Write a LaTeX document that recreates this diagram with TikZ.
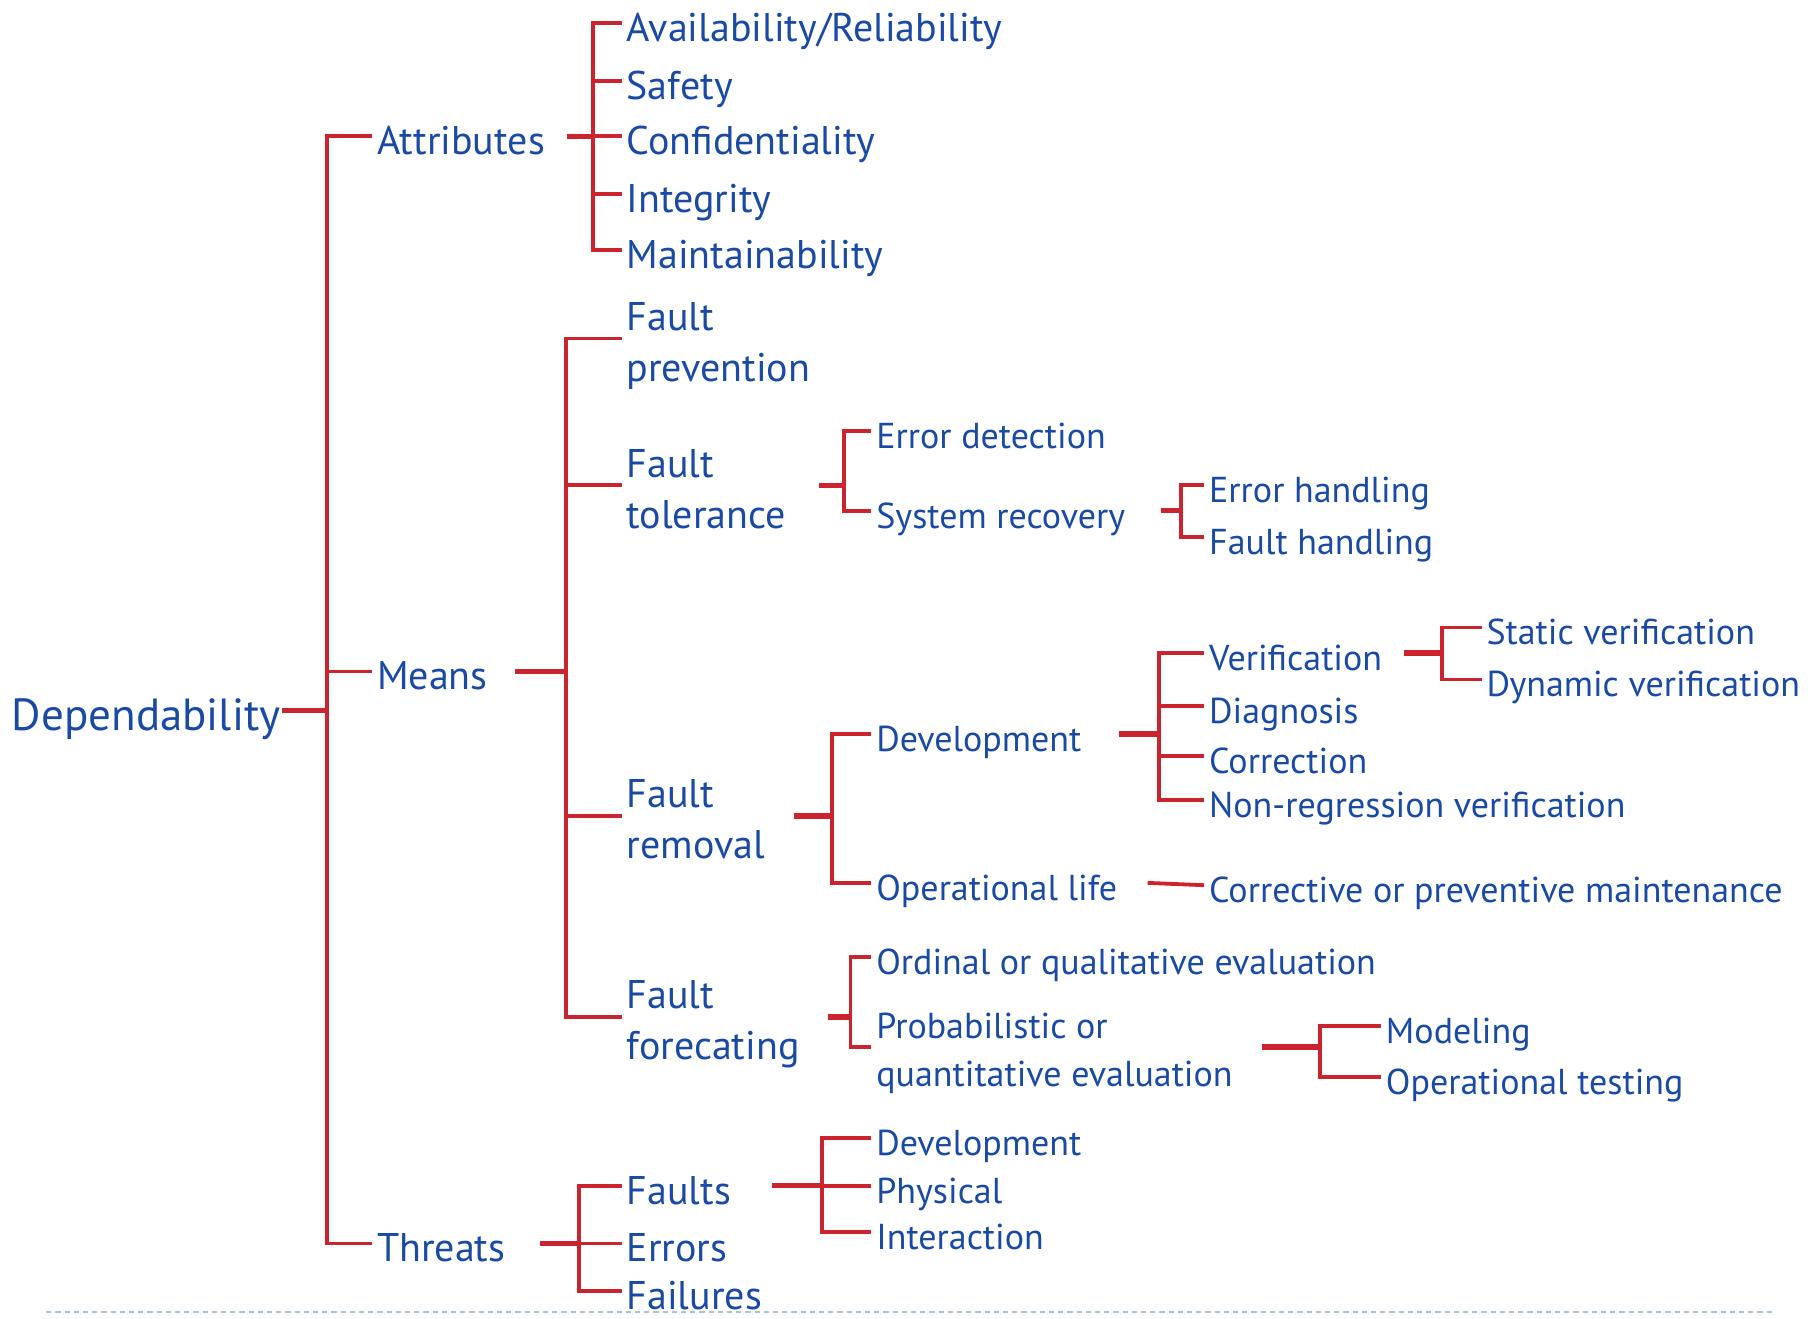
\documentclass[tikz,border=0pt]{standalone}
\usepackage{fontspec}
\setmainfont{PT Sans}
\usetikzlibrary{calc}
\definecolor{inkblue}{RGB}{26,74,165}
\definecolor{treered}{RGB}{204,36,46}
\definecolor{rulegrey}{RGB}{172,195,214}
% two stacked lines whose baseline is the first one
\newcommand{\tworows}[2]{\vtop{\hbox{#1}\hbox{#2}}}
\begin{document}
\begin{tikzpicture}[
  x=0.5778pt, y=-0.5778pt,
  every node/.style={inner ysep=0pt, inner xsep=2.31pt, text=inkblue, anchor=west},
  lvlbig/.style={font=\fontsize{22.5}{27}\selectfont, text height=19.65pt, text depth=0pt},
  lvlmid/.style={font=\fontsize{20}{25.4}\selectfont, text height=18.49pt, text depth=0pt},
  lvlmidtwo/.style={font=\fontsize{20}{25.4}\selectfont, text height=0pt, text depth=8.09pt},
  lvlsmall/.style={font=\fontsize{18}{23.7}\selectfont, text height=17.33pt, text depth=0pt},
  lvlsmalltwo/.style={font=\fontsize{18}{23.7}\selectfont, text height=0pt, text depth=8.09pt},
  branch/.style={draw=treered, line width=1.9pt},
  stub/.style={draw=treered, line width=2.7pt},
]
\useasboundingbox (0,0) rectangle (1568,1141);

% bottom rule
\draw[rulegrey, line width=0.9pt, dash pattern=on 2.6pt off 2pt] (40,1135) -- (1535,1135);

% root
\node[lvlbig] (dep) at (6,615) {Dependability};

% first level
\node[lvlmid] (attr) at (322,118) {Attributes};
\node[lvlmid] (means) at (322,581) {Means};
\node[lvlmid] (threats) at (322,1076) {Threats};

% attributes
\node[lvlmid] (avail) at (538,20) {Availability/Reliability};
\node[lvlmid] (safety) at (538,70) {Safety};
\node[lvlmid] (conf) at (538,118) {Confidentiality};
\node[lvlmid] (integ) at (538,168) {Integrity};
\node[lvlmid] (maint) at (538,216) {Maintainability};

% means
\node[lvlmidtwo] (fprev) at (538,293) {\tworows{Fault}{prevention}};
\node[lvlmidtwo] (ftol) at (538,420) {\tworows{Fault}{tolerance}};
\node[lvlmidtwo] (frem) at (538,706) {\tworows{Fault}{removal}};
\node[lvlmidtwo] (ffore) at (538,880) {\tworows{Fault}{forecating}};

% fault tolerance
\node[lvlsmall] (errdet) at (754,373) {Error detection};
\node[lvlsmall] (sysrec) at (754,442) {System recovery};
\node[lvlsmall] (errh) at (1042,420) {Error handling};
\node[lvlsmall] (faulth) at (1042,465) {Fault handling};

% fault removal
\node[lvlsmall] (devel) at (754,635) {Development};
\node[lvlsmall] (oplife) at (754,764) {Operational life};
\node[lvlsmall] (verif) at (1042,565) {Verification};
\node[lvlsmall] (diag) at (1042,611) {Diagnosis};
\node[lvlsmall] (corr) at (1042,654) {Correction};
\node[lvlsmall] (nonreg) at (1042,692) {Non-regression verification};
\node[lvlsmall] (statv) at (1282,543) {Static verification};
\node[lvlsmall] (dynv) at (1282,588) {Dynamic verification};
\node[lvlsmall] (corrmaint) at (1042,766) {Corrective or preventive maintenance};

% fault forecasting
\node[lvlsmall] (ordinal) at (754,828) {Ordinal or qualitative evaluation};
\node[lvlsmalltwo] (probab) at (754,906) {\tworows{Probabilistic or}{quantitative evaluation}};
\node[lvlsmall] (model) at (1195,888) {Modeling};
\node[lvlsmall] (optest) at (1195,932) {Operational testing};

% threats
\node[lvlmid] (faults) at (538,1026) {Faults};
\node[lvlmid] (errors) at (538,1076) {Errors};
\node[lvlmid] (failures) at (538,1117) {Failures};
\node[lvlsmall] (tdev) at (754,985) {Development};
\node[lvlsmall] (tphys) at (754,1026) {Physical};
\node[lvlsmall] (tinter) at (754,1066) {Interaction};

% junctions on the vertical bars
\coordinate (depB) at (283,615);
\coordinate (attrB) at (513,118);
\coordinate (meansB) at (490,581);
\coordinate (threatsB) at (501,1076);
\coordinate (ftolB) at (730,420);
\coordinate (sysrecB) at (1022,442);
\coordinate (fremB) at (720,706);
\coordinate (develB) at (1003,635);
\coordinate (verifB) at (1248,565);
\coordinate (fforeB) at (736,880);
\coordinate (probabB) at (1142,906);
\coordinate (faultsB) at (711,1026);

% root
\draw[stub] ($(dep.east)+(-3,0)$) -- (depB);
\foreach \c in {attr,means,threats} \draw[branch] (\c.west) -| (depB);

% attributes
\draw[stub] ($(attr.east)+(15,0)$) -- (attrB);
\foreach \c in {avail,safety,conf,integ,maint} \draw[branch] (\c.west) -| (attrB);

% means
\draw[stub] ($(means.east)+(19,0)$) -- (meansB);
\foreach \c in {fprev,ftol,frem,ffore} \draw[branch] (\c.west) -| (meansB);

\draw[stub] ($(ftol.east)+(24,0)$) -- (ftolB);
\foreach \c in {errdet,sysrec} \draw[branch] (\c.west) -| (ftolB);
\draw[stub] ($(sysrec.east)+(27,0)$) -- (sysrecB);
\foreach \c in {errh,faulth} \draw[branch] (\c.west) -| (sysrecB);

\draw[stub] ($(frem.east)+(21,0)$) -- (fremB);
\foreach \c in {devel,oplife} \draw[branch] (\c.west) -| (fremB);
\draw[stub] ($(devel.east)+(28,0)$) -- (develB);
\foreach \c in {verif,diag,corr,nonreg} \draw[branch] (\c.west) -| (develB);
\draw[stub] ($(verif.east)+(15,0)$) -- (verifB);
\foreach \c in {statv,dynv} \draw[branch] (\c.west) -| (verifB);
\draw[branch] ($(oplife.east)+(22,0)$) -- (corrmaint.west);

\draw[stub] ($(ffore.east)+(20,0)$) -- (fforeB);
\foreach \c in {ordinal,probab} \draw[branch] (\c.west) -| (fforeB);
\draw[stub] ($(probab.east)+(21,0)$) -- (probabB);
\foreach \c in {model,optest} \draw[branch] (\c.west) -| (probabB);

% threats
\draw[stub] ($(threats.east)+(26,0)$) -- (threatsB);
\foreach \c in {faults,errors,failures} \draw[branch] (\c.west) -| (threatsB);
\draw[stub] ($(faults.east)+(31,0)$) -- (faultsB);
\foreach \c in {tdev,tphys,tinter} \draw[branch] (\c.west) -| (faultsB);
\end{tikzpicture}
\end{document}
